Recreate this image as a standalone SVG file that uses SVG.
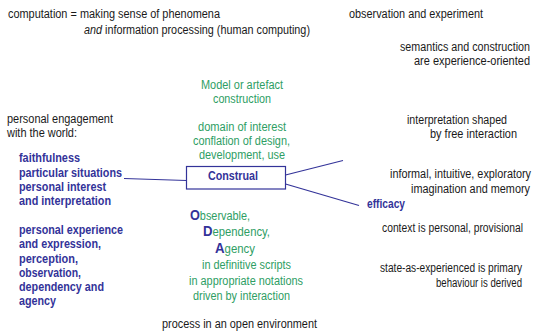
<svg xmlns="http://www.w3.org/2000/svg" width="533" height="333" viewBox="0 0 533 333">
<style>
text{font-family:"Liberation Sans",Arial,sans-serif;font-size:12px}
.k{fill:#1a1a1a}
.g{fill:#2e9e64}
.b{fill:#333399;font-weight:bold}
.big{fill:#333399;font-weight:bold;font-size:14px}
.e{text-anchor:end}
.ln{stroke:#333399;stroke-width:1.2;fill:none}
</style>
<rect width="533" height="333" fill="#ffffff"/>
<g id="connectors">
<line class="ln" x1="124" y1="178.5" x2="186.5" y2="180.5"/>
<line class="ln" x1="285.5" y1="175" x2="343" y2="160.5"/>
<line class="ln" x1="285.5" y1="184" x2="359" y2="205.5"/>
</g>
<g id="construal">
<rect x="186.5" y="166.5" width="99" height="22.5" fill="#ffffff" stroke="#333399" stroke-width="1.2"/>
<text class="b" x="208" y="180" textLength="50" lengthAdjust="spacingAndGlyphs">Construal</text>
</g>
<g id="computation">
<text class="k" x="8" y="18" textLength="212" lengthAdjust="spacingAndGlyphs">computation = making sense of phenomena</text>
<text class="k" x="84" y="34" font-style="italic" textLength="18" lengthAdjust="spacingAndGlyphs">and</text>
<text class="k" x="105" y="34" textLength="205" lengthAdjust="spacingAndGlyphs">information processing (human computing)</text>
</g>
<g id="observation">
<text class="k" x="349" y="18" textLength="134" lengthAdjust="spacingAndGlyphs">observation and experiment</text>
</g>
<g id="semantics">
<text class="k e" x="530" y="51" textLength="130" lengthAdjust="spacingAndGlyphs">semantics and construction</text>
<text class="k e" x="530" y="65" textLength="116" lengthAdjust="spacingAndGlyphs">are experience-oriented</text>
</g>
<g id="model">
<text class="g" x="201" y="89" textLength="82" lengthAdjust="spacingAndGlyphs">Model or artefact</text>
<text class="g" x="213" y="103" textLength="58" lengthAdjust="spacingAndGlyphs">construction</text>
</g>
<g id="domain">
<text class="g" x="198" y="131" textLength="88" lengthAdjust="spacingAndGlyphs">domain of interest</text>
<text class="g" x="193" y="145" textLength="97" lengthAdjust="spacingAndGlyphs">conflation of design,</text>
<text class="g" x="199" y="159" textLength="86" lengthAdjust="spacingAndGlyphs">development, use</text>
</g>
<g id="personal-engagement">
<text class="k" x="7" y="123" textLength="106" lengthAdjust="spacingAndGlyphs">personal engagement</text>
<text class="k" x="7" y="137" textLength="70" lengthAdjust="spacingAndGlyphs">with the world:</text>
</g>
<g id="faithfulness">
<text class="b" x="19" y="162" textLength="61" lengthAdjust="spacingAndGlyphs">faithfulness</text>
<text class="b" x="19" y="177" textLength="103" lengthAdjust="spacingAndGlyphs">particular situations</text>
<text class="b" x="19" y="191" textLength="87" lengthAdjust="spacingAndGlyphs">personal interest</text>
<text class="b" x="19" y="205" textLength="92" lengthAdjust="spacingAndGlyphs">and interpretation</text>
</g>
<g id="experience">
<text class="b" x="19" y="234" textLength="104" lengthAdjust="spacingAndGlyphs">personal experience</text>
<text class="b" x="19" y="248" textLength="82" lengthAdjust="spacingAndGlyphs">and expression,</text>
<text class="b" x="19" y="263" textLength="59" lengthAdjust="spacingAndGlyphs">perception,</text>
<text class="b" x="19" y="277" textLength="62" lengthAdjust="spacingAndGlyphs">observation,</text>
<text class="b" x="19" y="291" textLength="85" lengthAdjust="spacingAndGlyphs">dependency and</text>
<text class="b" x="19" y="305" textLength="37" lengthAdjust="spacingAndGlyphs">agency</text>
</g>
<g id="interpretation">
<text class="k" x="407" y="124" textLength="100" lengthAdjust="spacingAndGlyphs">interpretation shaped</text>
<text class="k" x="430" y="138" textLength="87" lengthAdjust="spacingAndGlyphs">by free interaction</text>
</g>
<g id="informal">
<text class="k e" x="531" y="178" textLength="141" lengthAdjust="spacingAndGlyphs">informal, intuitive, exploratory</text>
<text class="k e" x="530" y="193" textLength="119" lengthAdjust="spacingAndGlyphs">imagination and memory</text>
</g>
<g id="efficacy">
<text class="b" x="367" y="208" textLength="38" lengthAdjust="spacingAndGlyphs">efficacy</text>
</g>
<g id="context">
<text class="k" x="382" y="232" textLength="141" lengthAdjust="spacingAndGlyphs">context is personal, provisional</text>
</g>
<g id="oda">
<text class="g" x="190" y="220" textLength="60" lengthAdjust="spacingAndGlyphs"><tspan class="big">O</tspan>bservable,</text>
<text class="g" x="203" y="236" textLength="67" lengthAdjust="spacingAndGlyphs"><tspan class="big">D</tspan>ependency,</text>
<text class="g" x="215" y="253" textLength="40" lengthAdjust="spacingAndGlyphs"><tspan class="big">A</tspan>gency</text>
<text class="g" x="202" y="269" textLength="89" lengthAdjust="spacingAndGlyphs">in definitive scripts</text>
<text class="g" x="189" y="285" textLength="114" lengthAdjust="spacingAndGlyphs">in appropriate notations</text>
<text class="g" x="193" y="300" textLength="97" lengthAdjust="spacingAndGlyphs">driven by interaction</text>
</g>
<g id="state">
<text class="k" x="380" y="272" textLength="142" lengthAdjust="spacingAndGlyphs">state-as-experienced is primary</text>
<text class="k" x="436" y="287" textLength="86" lengthAdjust="spacingAndGlyphs">behaviour is derived</text>
</g>
<g id="process">
<text class="k" x="162" y="328" textLength="155" lengthAdjust="spacingAndGlyphs">process in an open environment</text>
</g>
</svg>
